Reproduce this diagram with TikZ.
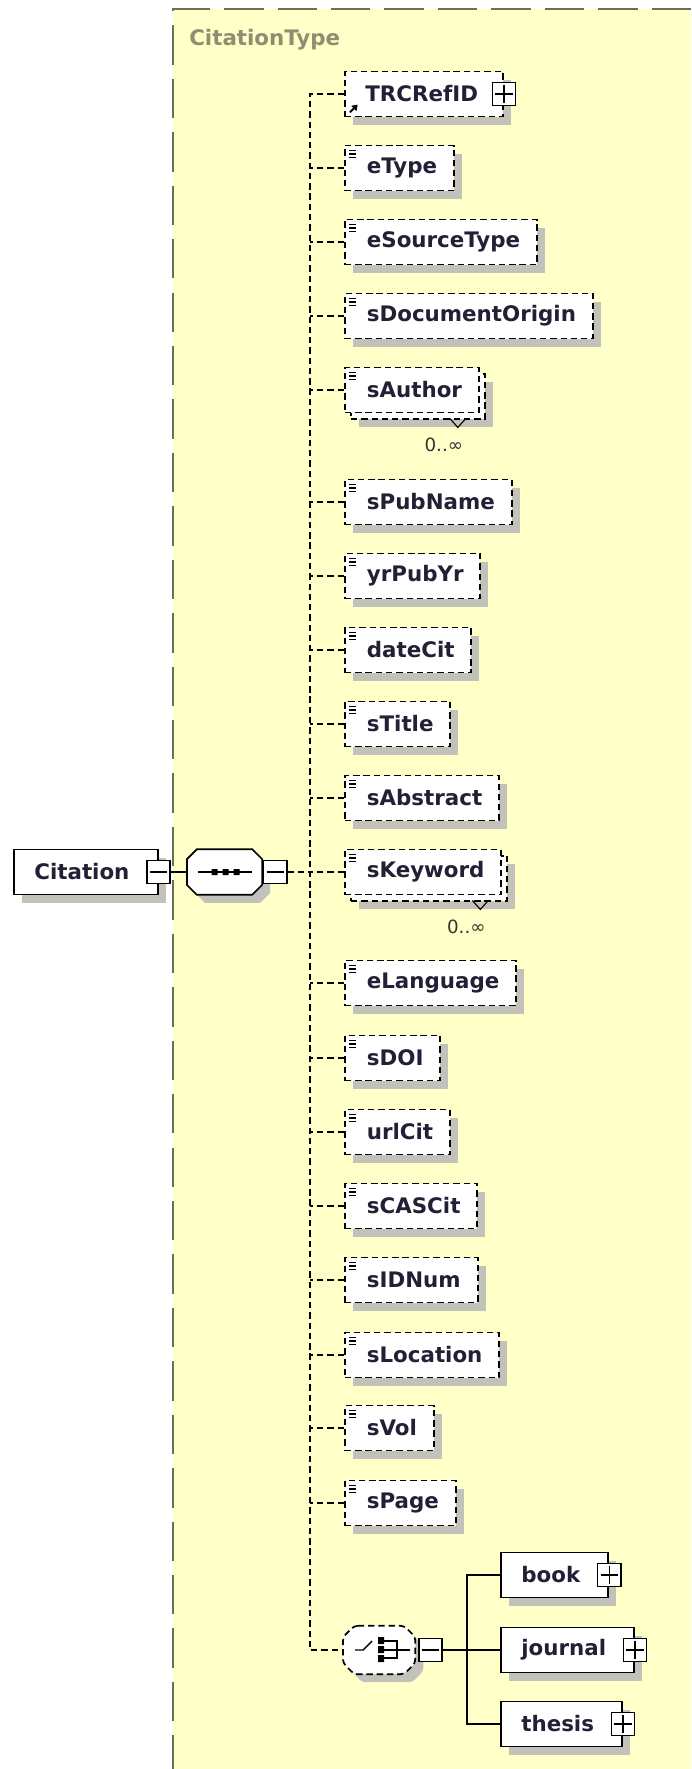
\documentclass[tikz,border=0pt]{standalone}
\usepackage{fontspec}
\setmainfont{DejaVu Sans}
\usetikzlibrary{arrows, positioning, shadows}

\definecolor{typebg}{HTML}{FFFFC8}
\definecolor{typeframe}{HTML}{6E6E58}
\definecolor{typename}{HTML}{8E8E70}
\definecolor{elemtext}{HTML}{202036}
\definecolor{shade}{HTML}{C2C2BA}

% octagon round a compositor node: node name, chamfer
\newcommand{\octpath}[2]{([xshift=#2]#1.north west) -- ([xshift=-#2]#1.north east) -- ([yshift=-#2]#1.north east)
    -- ([yshift=#2]#1.south east) -- ([xshift=-#2]#1.south east) -- ([xshift=#2]#1.south west)
    -- ([yshift=#2]#1.south west) -- ([yshift=-#2]#1.north west) -- cycle}

\begin{document}
\begin{tikzpicture}[
    x=0.025cm, y=-0.025cm,
    every node/.style={font=\fontsize{15.2}{18}\selectfont\bfseries, text=elemtext},
    dashpat/.style={dash pattern=on 4.5pt off 2.8pt},
    shadowed/.style={drop shadow={shadow xshift=5.7pt, shadow yshift=-5.7pt, fill=shade, opacity=1}},
    box/.style={rectangle, fill=white, line width=1.35pt, minimum height=32pt, anchor=west},
    attrlines/.style={path picture={
        \foreach \dy in {3.6pt,6pt,8.4pt}
            \draw[solid, black, line width=0.8pt] ([shift={(2.8pt,-\dy)}]path picture bounding box.north west) -- ++(5.4pt,0pt);}},
    elem/.style={box, draw, dashpat, shadowed, attrlines, inner xsep=12pt,
        execute at begin node=\hspace*{3.6pt}},
    multielem/.style={box, draw, dashpat, attrlines, inner xsep=12pt,
        execute at begin node=\hspace*{3.6pt},
        drop shadow={shadow xshift=10pt, shadow yshift=-10pt, fill=shade, opacity=1},
        copy shadow={shadow xshift=4.3pt, shadow yshift=-4.3pt, draw=black, fill=white, dashpat, line width=1.35pt}},
    refelem/.style={box, draw, dashpat, shadowed, inner xsep=14.5pt,
        execute at end node=\hspace*{3.3pt},
        path picture={
            \draw[solid, black, line width=1.4pt] ([shift={(3.6pt,3pt)}]path picture bounding box.south west) -- ++(3.6pt,3.6pt);
            \fill[black] ([shift={(9pt,8.4pt)}]path picture bounding box.south west) -- ++(-4.6pt,-0.8pt) -- ++(3.8pt,-3.8pt) -- cycle;}},
    complex/.style={box, draw, shadowed, inner xsep=14.5pt,
        execute at end node=\hspace*{5.5pt}},
    pmbox/.style={rectangle, draw, solid, fill=white, line width=1pt, minimum size=16.4pt, inner sep=0pt},
    plusbox/.style={pmbox, path picture={
        \draw[line width=1pt] ([xshift=2pt]path picture bounding box.west) -- ([xshift=-2pt]path picture bounding box.east)
            ([yshift=-2pt]path picture bounding box.north) -- ([yshift=2pt]path picture bounding box.south);}},
    minusbox/.style={pmbox, path picture={
        \draw[line width=1pt] ([xshift=2pt]path picture bounding box.west) -- ([xshift=-2pt]path picture bounding box.east);}},
    compbox/.style={rectangle, inner sep=0pt, anchor=west},
    compshade/.style={fill=shade, transform canvas={shift={(5.7pt,-5.7pt)}}},
    comp/.style={draw, fill=white, line width=1.2pt},
    occurs/.style={font=\fontsize{13}{15}\selectfont, text=black!80, inner sep=0pt},
    notch/.style={line width=0.8pt},
    symbol/.style={line width=1pt},
    link/.style={line width=1.2pt},
    dlink/.style={line width=1.3pt, dashpat}
]
\useasboundingbox (0,0) rectangle (691,1769);
\fill[white] (0,0) rectangle (691,1769);

% Type area
\fill[typebg] (173,9) rectangle (691,1769);
\draw[typeframe, line width=1.1pt, dash pattern=on 28pt off 10pt] (691,9) -- (173,9) -- (173,1769);
\node[anchor=west, inner sep=0pt, text=typename] (typename) at (189,40) {CitationType};

% Root element and sequence
\node[complex] (Citation) at (13,872) {Citation};
\node[minusbox] (Citation-minus) at (Citation.east) {};
\node[compbox, minimum width=53pt, minimum height=32pt] (seq) at (187,872) {};
\fill[compshade] \octpath{seq}{7pt};
\filldraw[comp] \octpath{seq}{7pt};
\draw[symbol] ([shift={(-27,0)}]seq.center) -- ([shift={(27,0)}]seq.center);
\fill[black] ([shift={(-13,-3)}]seq.center) rectangle ++(6,6)
    ([shift={(-2,-3)}]seq.center) rectangle ++(6,6)
    ([shift={(9,-3)}]seq.center) rectangle ++(6,6);
\node[minusbox, right=0.7pt of seq] (seq-minus) {};

% Children
\node[refelem] (TRCRefID) at (344,94) {TRCRefID};
\node[plusbox] (TRCRefID-plus) at (TRCRefID.east) {};
\node[elem] (eType) at (344,168) {eType};
\node[elem] (eSourceType) at (344,242) {eSourceType};
\node[elem] (sDocumentOrigin) at (344,316) {sDocumentOrigin};
\node[multielem] (sAuthor) at (344,390) {sAuthor};
\node[occurs] (sAuthor-occ) at ([shift={(-36,31)}]sAuthor.south east) {0..∞};
\node[elem] (sPubName) at (344,502) {sPubName};
\node[elem] (yrPubYr) at (344,576) {yrPubYr};
\node[elem] (dateCit) at (344,650) {dateCit};
\node[elem] (sTitle) at (344,724) {sTitle};
\node[elem] (sAbstract) at (344,798) {sAbstract};
\node[multielem] (sKeyword) at (344,872) {sKeyword};
\node[occurs] (sKeyword-occ) at ([shift={(-36,31)}]sKeyword.south east) {0..∞};
\node[elem] (eLanguage) at (344,983) {eLanguage};
\node[elem] (sDOI) at (344,1058) {sDOI};
\node[elem] (urlCit) at (344,1132) {urlCit};
\node[elem] (sCASCit) at (344,1206) {sCASCit};
\node[elem] (sIDNum) at (344,1280) {sIDNum};
\node[elem] (sLocation) at (344,1355) {sLocation};
\node[elem] (sVol) at (344,1428) {sVol};
\node[elem] (sPage) at (344,1503) {sPage};

% Choice
\node[compbox, minimum width=51pt, minimum height=34pt] (choice) at (343,1650) {};
\fill[compshade, rounded corners=2.5pt] \octpath{choice}{8pt};
\filldraw[comp, dashpat, rounded corners=2.5pt] \octpath{choice}{8pt};
\draw[symbol] ([shift={(-24,0)}]choice.center) -- ++(8,0) -- ++(9,-9);
\fill[black] ([shift={(-1,-13)}]choice.center) rectangle ++(6,7)
    ([shift={(-1,-4)}]choice.center) rectangle ++(6,7)
    ([shift={(-1,5)}]choice.center) rectangle ++(6,7);
\draw[symbol] ([shift={(5,-9)}]choice.center) -- ++(13,0) -- ++(0,17) -- ++(-13,0)
    ([shift={(5,0)}]choice.center) -- ++(26,0);
\node[minusbox, right=2pt of choice] (choice-minus) {};
\node[complex] (book) at (500,1575) {book};
\node[plusbox] (book-plus) at (book.east) {};
\node[complex] (journal) at (500,1650) {journal};
\node[plusbox] (journal-plus) at (journal.east) {};
\node[complex] (thesis) at (500,1724) {thesis};
\node[plusbox] (thesis-plus) at (thesis.east) {};

% Occurrence notches
\draw[notch] ([shift={(-30,5)}]sAuthor.south east) -- ++(8,9) -- ++(8,-9);
\draw[notch] ([shift={(-30,5)}]sKeyword.south east) -- ++(8,9) -- ++(8,-9);

% Connectors
\coordinate (fork) at (310,872);
\coordinate (split) at (467,1650);
\draw[link] (Citation-minus) -- (seq.west);
\draw[dlink] (seq-minus) -- (fork);
\draw[dlink] (TRCRefID.west) -| (fork) |- (choice.west);
\draw[dlink] (eType.west) -- (eType.west -| fork);
\draw[dlink] (eSourceType.west) -- (eSourceType.west -| fork);
\draw[dlink] (sDocumentOrigin.west) -- (sDocumentOrigin.west -| fork);
\draw[dlink] (sAuthor.west) -- (sAuthor.west -| fork);
\draw[dlink] (sPubName.west) -- (sPubName.west -| fork);
\draw[dlink] (yrPubYr.west) -- (yrPubYr.west -| fork);
\draw[dlink] (dateCit.west) -- (dateCit.west -| fork);
\draw[dlink] (sTitle.west) -- (sTitle.west -| fork);
\draw[dlink] (sAbstract.west) -- (sAbstract.west -| fork);
\draw[dlink] (sKeyword.west) -- (fork);
\draw[dlink] (eLanguage.west) -- (eLanguage.west -| fork);
\draw[dlink] (sDOI.west) -- (sDOI.west -| fork);
\draw[dlink] (urlCit.west) -- (urlCit.west -| fork);
\draw[dlink] (sCASCit.west) -- (sCASCit.west -| fork);
\draw[dlink] (sIDNum.west) -- (sIDNum.west -| fork);
\draw[dlink] (sLocation.west) -- (sLocation.west -| fork);
\draw[dlink] (sVol.west) -- (sVol.west -| fork);
\draw[dlink] (sPage.west) -- (sPage.west -| fork);
\draw[link] (choice-minus) -- (split);
\draw[link] (book.west) -| (split) |- (thesis.west);
\draw[link] (split) -- (journal.west);

\end{tikzpicture}
\end{document}
